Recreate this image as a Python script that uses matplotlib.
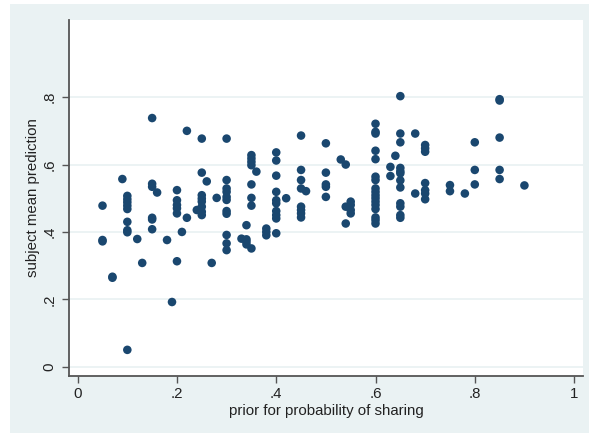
import matplotlib
matplotlib.use("Agg")
import matplotlib.pyplot as plt
from matplotlib.patches import Rectangle

prior = [
    0.05, 0.05, 0.05,
    0.07, 0.07,
    0.09,
    0.10, 0.10, 0.10, 0.10, 0.10, 0.10, 0.10, 0.10, 0.10,
    0.12, 0.13,
    0.15, 0.15, 0.15, 0.15, 0.15, 0.15,
    0.16, 0.18, 0.19,
    0.20, 0.20, 0.20, 0.20, 0.20, 0.20,
    0.21, 0.22, 0.22, 0.24,
    0.25, 0.25, 0.25, 0.25, 0.25, 0.25, 0.25, 0.25,
    0.26, 0.27, 0.28,
    0.30, 0.30, 0.30, 0.30, 0.30, 0.30, 0.30, 0.30, 0.30, 0.30, 0.30,
    0.33, 0.34, 0.34, 0.34, 0.34,
    0.35, 0.35, 0.35, 0.35, 0.35, 0.35, 0.35, 0.35,
    0.36, 0.38, 0.38, 0.38,
    0.40, 0.40, 0.40, 0.40, 0.40, 0.40, 0.40, 0.40, 0.40, 0.40,
    0.42,
    0.45, 0.45, 0.45, 0.45, 0.45, 0.45, 0.45, 0.45,
    0.46,
    0.50, 0.50, 0.50, 0.50, 0.50,
    0.53, 0.54, 0.54, 0.54,
    0.55, 0.55, 0.55, 0.55,
    0.60, 0.60, 0.60, 0.60, 0.60, 0.60, 0.60, 0.60, 0.60, 0.60, 0.60,
    0.60, 0.60, 0.60, 0.60, 0.60, 0.60,
    0.63, 0.63, 0.64,
    0.65, 0.65, 0.65, 0.65, 0.65, 0.65, 0.65, 0.65, 0.65, 0.65, 0.65, 0.65,
    0.68, 0.68,
    0.70, 0.70, 0.70, 0.70, 0.70, 0.70, 0.70,
    0.75, 0.75, 0.78,
    0.80, 0.80, 0.80,
    0.85, 0.85, 0.85, 0.85, 0.85,
    0.90,
]

prediction = [
    0.478, 0.376, 0.372,
    0.267, 0.264,
    0.557,
    0.507, 0.497, 0.488, 0.478, 0.468, 0.430, 0.405, 0.399, 0.050,
    0.379, 0.308,
    0.738, 0.543, 0.534, 0.442, 0.437, 0.408,
    0.517, 0.376, 0.192,
    0.524, 0.494, 0.480, 0.470, 0.455, 0.313,
    0.400, 0.700, 0.442, 0.465,
    0.677, 0.576, 0.509, 0.499, 0.490, 0.475, 0.460, 0.450,
    0.550, 0.308, 0.501,
    0.677, 0.554, 0.529, 0.519, 0.504, 0.495, 0.462, 0.454, 0.391, 0.366, 0.346,
    0.380, 0.420, 0.378, 0.371, 0.363,
    0.628, 0.618, 0.608, 0.598, 0.541, 0.501, 0.478, 0.351,
    0.579, 0.410, 0.400, 0.390,
    0.636, 0.612, 0.567, 0.519, 0.494, 0.485, 0.462, 0.450, 0.440, 0.396,
    0.500,
    0.686, 0.584, 0.554, 0.529, 0.475, 0.465, 0.455, 0.443,
    0.521,
    0.663, 0.576, 0.541, 0.534, 0.504,
    0.615, 0.600, 0.475, 0.425,
    0.490, 0.480, 0.465, 0.455,
    0.721, 0.697, 0.692, 0.641, 0.616, 0.564, 0.554, 0.529, 0.519, 0.509, 0.500,
    0.490, 0.480, 0.468, 0.443, 0.435, 0.425,
    0.593, 0.566, 0.626,
    0.803, 0.692, 0.666, 0.590, 0.580, 0.574, 0.553, 0.532, 0.485, 0.475, 0.450, 0.442,
    0.692, 0.514,
    0.658, 0.648, 0.638, 0.545, 0.524, 0.514, 0.497,
    0.539, 0.521, 0.514,
    0.666, 0.584, 0.541,
    0.794, 0.790, 0.680, 0.584, 0.557,
    0.538,
]

xticks = [0, 0.2, 0.4, 0.6, 0.8, 1.0]
xticklabels = ["0", ".2", ".4", ".6", ".8", "1"]
yticks = [0, 0.2, 0.4, 0.6, 0.8]
yticklabels = ["0", ".2", ".4", ".6", ".8"]

plt.rcParams['font.family'] = ['Liberation Sans', 'DejaVu Sans']

W, H = 589, 433
fig = plt.figure(figsize=(W / 100, H / 100), dpi=100)
fig.patch.set_facecolor("white")
fig.patches.append(Rectangle((10 / W, 0), 1 - 10 / W, 1 - 4 / H,
                             transform=fig.transFigure, facecolor="#eaf2f3",
                             edgecolor="none", zorder=0))

ax = fig.add_axes([69 / W, 1 - 376 / H, (583 - 69) / W, (376 - 20) / H])
ax.set_facecolor("white")
ax.set_zorder(1)

for y in yticks:
    ax.axhline(y, color="#eaf2f3", lw=1.3, zorder=1)

ax.scatter(prior, prediction, s=38, color="#1a476f", edgecolors="none", zorder=3)

ax.set_xlim(-0.0175, 1.018)
ax.set_ylim(-0.0276, 1.029)

fs = 10.8
ax.set_xticks(xticks)
ax.set_xticklabels(xticklabels, fontsize=fs)
ax.set_yticks(yticks)
ax.set_yticklabels(yticklabels, fontsize=fs, rotation=90, va="center")

for s in ["top", "right"]:
    ax.spines[s].set_visible(False)
for s in ["left", "bottom"]:
    ax.spines[s].set_color("#555555")
    ax.spines[s].set_linewidth(1.3)
ax.tick_params(direction="out", length=5, width=1, color="#555555", labelcolor="#222222")
ax.tick_params(axis="x", pad=3)
ax.tick_params(axis="y", pad=4)

ax.set_xlabel("prior for probability of sharing", fontsize=fs, color="#222222", labelpad=2)
ax.set_ylabel("subject mean prediction", fontsize=fs, color="#222222", labelpad=2)

fig.savefig("out.png", dpi=100)
